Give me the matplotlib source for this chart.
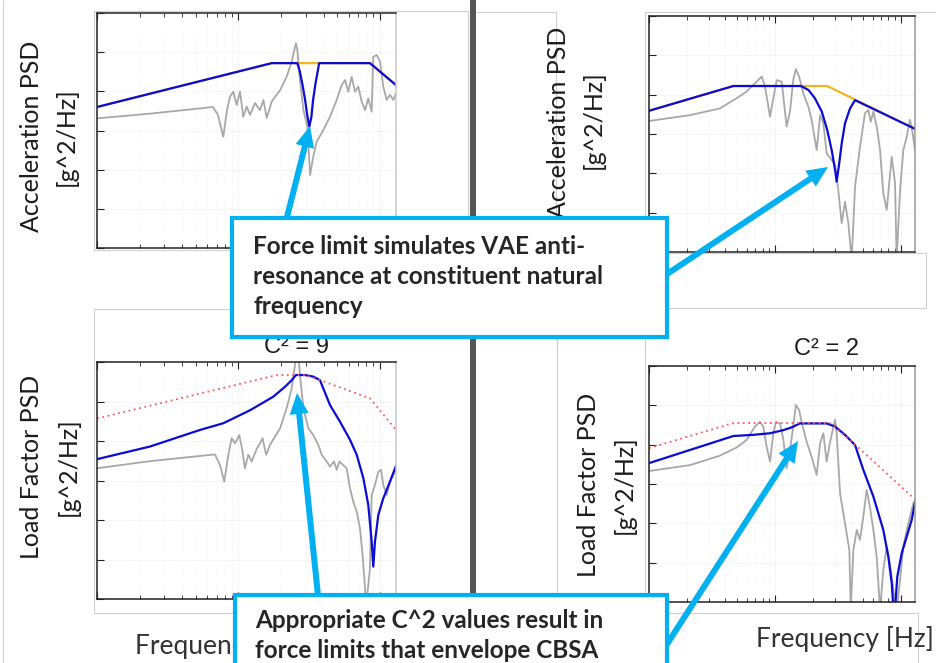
import numpy as np
import matplotlib
matplotlib.use("Agg")
import matplotlib.pyplot as plt
from matplotlib.patches import Rectangle, FancyArrow
from matplotlib.ticker import LogLocator, NullLocator

# ---------------- data (frequency in Hz, PSD level in dB re 1 g^2/Hz) ----------------
# Top-left: acceleration, constituent A
tl_spec_f = [10, 172, 851, 1300]
tl_spec_db = [-24.0, -12.8, -12.8, -18.4]
tl_limit_f = [10, 172, 261, 272, 284, 296, 306, 317, 328, 337, 351, 363, 372, 851, 1300]
tl_limit_db = [-24.0, -12.8, -12.8, -15.0, -18.4, -22.2, -26.0, -29.0, -26.5, -22.2,
               -17.9, -15.0, -12.8, -12.8, -18.4]
tl_resp_f = [10, 23.7, 66.1, 71.6, 78.1, 83.0, 87.1, 92.0, 97.2, 102.6,
             108.2, 114.3, 120.7, 130.9, 142, 150, 158.5, 172, 197, 219,
             238, 255, 261, 272, 288, 307, 321, 338, 357, 398,
             444, 495, 537, 567, 598, 632, 667, 704, 743, 785,
             828, 875, 898, 949, 1002, 1057, 1117, 1178, 1245, 1300]
tl_resp_db = [-26.9, -25.7, -24.0, -26.0, -31.6, -24.8, -21.4, -20.1, -23.5, -20.1,
              -26.5, -23.9, -26.0, -23.0, -24.8, -22.2, -26.8, -22.6, -19.7, -16.3,
              -12.4, -7.7, -9.4, -17.1, -24.8, -29.0, -41.4, -36.7, -32.9, -29.9,
              -26.5, -22.2, -18.4, -17.1, -20.1, -16.3, -20.1, -18.8, -22.6, -24.8,
              -21.8, -25.2, -11.2, -10.7, -12.4, -18.8, -22.2, -20.9, -22.2, -20.5]

# Top-right: acceleration, constituent B
tr_spec_f = [10, 46.8, 261, 1300]
tr_spec_db = [-24.1, -17.8, -17.8, -28.7]
tr_limit_f = [10, 46.8, 161, 185, 208, 236, 261, 283, 301, 310, 325, 340, 361, 396, 434, 1300]
tr_limit_db = [-24.1, -17.8, -17.8, -18.8, -20.9, -24.3, -29.0, -34.1, -39.1, -42.1,
               -37.4, -32.4, -27.3, -23.5, -21.4, -28.7]
tr_resp_f = [10, 21.2, 36.6, 49.8, 59.7, 67.4, 78.7, 83.6, 91.6, 97.3,
             103.5, 113.5, 124, 132, 140, 147, 156, 168, 185, 196,
             215, 229, 243, 258, 283, 301, 319, 340, 361, 384,
             408, 434, 475, 521, 553, 578, 607, 645, 686, 728,
             775, 849, 902, 930, 989, 1050, 1117, 1186, 1245, 1300]
tr_resp_db = [-26.7, -25.2, -23.5, -20.9, -19.2, -17.5, -15.4, -18.0, -25.6, -20.9,
              -16.3, -16.7, -28.1, -24.3, -16.3, -13.5, -15.4, -19.6, -23.1, -26.4,
              -34.1, -25.2, -27.3, -34.9, -36.6, -37.9, -44.2, -52.7, -47.2, -52.7,
              -62.0, -43.4, -33.2, -24.7, -23.9, -26.9, -24.3, -28.1, -34.1, -45.1,
              -49.3, -35.8, -42.5, -62.0, -44.2, -34.1, -30.7, -26.4, -29.8, -34.1]

# Bottom-left: load factor, C^2 = 9
bl_spec_f = [10, 187, 296, 377, 851, 1300]
bl_spec_db = [-14.3, -3.3, -3.3, -4.6, -9.2, -17.2]
bl_limit_f = [10, 23.7, 53.5, 78.2, 121, 176, 213, 238, 255, 296,
              338, 377, 398, 444, 522, 615, 686, 764, 828, 875,
              898, 923, 975, 1057, 1178, 1300]
bl_limit_db = [-24.6, -21.4, -17.2, -15.5, -12.2, -8.8, -6.3, -4.6, -3.3, -3.3,
               -3.7, -4.6, -6.7, -10.9, -15.1, -19.7, -23.5, -29.4, -36.2, -45.5,
               -51.8, -45.5, -38.7, -34.5, -30.3, -26.3]
bl_resp_f = [10, 23.7, 68.2, 74.1, 79.4, 84.8, 89.6, 94.6, 101.4, 107,
             111, 117.5, 124, 135, 142, 148, 157, 167, 197, 219,
             238, 251, 258, 265, 272, 288, 312, 338, 367, 388,
             421, 444, 474, 495, 517, 551, 582, 615, 649, 686,
             723, 755, 785, 798, 828, 851, 875, 923, 975, 1019,
             1057, 1117, 1178, 1245, 1300]
bl_resp_db = [-26.9, -25.1, -23.4, -26.1, -30.3, -23.5, -19.3, -20.6, -18.5, -22.7,
              -26.9, -23.5, -25.2, -21.9, -20.6, -19.3, -23.5, -21.0, -16.8, -11.7,
              -6.7, -0.8, 2.5, 2.5, -3.3, -11.7, -16.8, -18.5, -21.0, -23.5,
              -25.2, -26.5, -25.2, -27.3, -25.2, -26.1, -26.9, -32.0, -35.4, -37.9,
              -42.1, -48.9, -57.3, -62.0, -56.5, -52.2, -33.7, -31.1, -27.8, -27.3,
              -31.1, -33.7, -30.3, -28.6, -27.3]

# Bottom-right: load factor, C^2 = 2
br_spec_f = [10, 46.8, 274, 421, 1300]
br_spec_db = [-20.9, -14.5, -14.5, -19.6, -33.9]
br_limit_f = [10, 46.8, 67.4, 91.6, 117, 136, 158, 258, 301, 361,
              434, 505, 607, 728, 798, 849, 877, 902, 940, 1019,
              1117, 1224, 1300]
br_limit_db = [-24.7, -17.8, -17.5, -17.1, -16.3, -15.6, -14.6, -14.6, -15.4, -17.5,
               -20.1, -26.4, -33.2, -41.7, -48.5, -55.2, -62.0, -62.0, -53.6, -47.6,
               -43.4, -39.1, -34.7]
br_resp_f = [10, 21.2, 36.6, 49.8, 59.7, 69.5, 76.2, 80.9, 86.1, 91.6,
             97.3, 102, 110, 117, 124, 132, 140, 147, 156, 164,
             179, 196, 215, 229, 243, 258, 274, 292, 301, 310,
             330, 350, 372, 391, 401, 421, 448, 475, 505, 537,
             570, 607, 645, 686, 728, 775, 822, 875, 930, 989,
             1050, 1117, 1186, 1262, 1300]
br_resp_db = [-26.7, -25.2, -22.8, -20.7, -18.8, -15.4, -14.2, -15.4, -20.5, -24.3,
              -17.1, -14.2, -14.6, -18.8, -26.0, -21.4, -15.4, -9.9, -11.2, -14.6,
              -19.2, -23.1, -27.7, -19.6, -17.1, -24.3, -19.6, -15.4, -13.7, -17.1,
              -32.4, -37.4, -42.5, -46.8, -62.0, -46.8, -41.7, -44.2, -38.3, -31.5,
              -35.8, -41.7, -48.5, -62.0, -51.9, -45.9, -50.2, -56.9, -62.0, -54.4,
              -45.9, -41.7, -38.3, -34.9, -34.1]

acc_label = ["Acceleration PSD", "[g^2/Hz]"]
load_label = ["Load Factor PSD", "[g^2/Hz]"]
freq_label = "Frequency [Hz]"
titles = ["C\u00b2 = 9", "C\u00b2 = 2"]
note_top = ["Force limit simulates VAE anti-",
            "resonance at constituent natural",
            "frequency"]
note_bottom = ["Appropriate C^2 values result in",
               "force limits that envelope CBSA"]

# ---------------- styling ----------------
BLUE = "#0b0bd6"
GRAY = "#a8a8a8"
ORANGE = "#f2b423"
RED = "#ff5a5a"
CYAN = "#00b0f0"
FRAME = "#cfcfcf"
TEXT = "#1c1c1c"

W, H = 936, 663
fig = plt.figure(figsize=(W / 100, H / 100), dpi=100)
fig.patch.set_facecolor("white")


def px_axes(x0, y0, x1, y1):
    return fig.add_axes([x0 / W, 1 - y1 / H, (x1 - x0) / W, (y1 - y0) / H], zorder=5)


def psd(db):
    return 10 ** (np.asarray(db, dtype=float) / 10.0)


def style(ax, right_color):
    ax.set_xscale("log")
    ax.set_yscale("log")
    ax.set_xlim(10, 1300)
    ax.set_ylim(1e-6, 1.0)
    ax.xaxis.set_major_locator(LogLocator(base=10, numticks=10))
    ax.xaxis.set_minor_locator(LogLocator(base=10, subs=np.arange(2, 10), numticks=20))
    ax.yaxis.set_major_locator(LogLocator(base=10, numticks=10))
    ax.yaxis.set_minor_locator(NullLocator())
    ax.tick_params(which="both", direction="in", top=True, right=False,
                   labelbottom=False, labelleft=False, color="#222222")
    ax.tick_params(which="major", length=5, width=0.8)
    ax.tick_params(which="minor", length=3, width=0.6)
    for s in ax.spines.values():
        s.set_linewidth(1.1)
        s.set_color("#222222")
    ax.spines["right"].set_color(right_color)
    ax.grid(True, which="major", ls=":", color="#e0e0e0", lw=0.6)
    ax.grid(True, which="minor", axis="x", ls=":", color="#efefef", lw=0.5)


# Acceleration panels
ax_tl = px_axes(97, 13, 396, 248)
style(ax_tl, "#c8c8c8")
ax_tl.plot(tl_resp_f, psd(tl_resp_db), color=GRAY, lw=1.3)
ax_tl.plot(tl_spec_f, psd(tl_spec_db), color=ORANGE, lw=1.6)
ax_tl.plot(tl_limit_f, psd(tl_limit_db), color=BLUE, lw=1.6)

ax_tr = px_axes(649, 16, 915, 252)
style(ax_tr, "#9a9a9a")
ax_tr.plot(tr_resp_f, psd(tr_resp_db), color=GRAY, lw=1.3)
ax_tr.plot(tr_spec_f, psd(tr_spec_db), color=ORANGE, lw=1.6)
ax_tr.plot(tr_limit_f, psd(tr_limit_db), color=BLUE, lw=1.6)

# Load factor panels
ax_bl = px_axes(97, 362, 396, 599)
style(ax_bl, "#c8c8c8")
ax_bl.plot(bl_resp_f, psd(bl_resp_db), color=GRAY, lw=1.3)
ax_bl.plot(bl_limit_f, psd(bl_limit_db), color=BLUE, lw=1.6)
ax_bl.plot(bl_spec_f, psd(bl_spec_db), color=RED, lw=1.3, ls=(0, (1, 2)))

ax_br = px_axes(649, 366, 915, 602)
style(ax_br, "#9a9a9a")
ax_br.plot(br_resp_f, psd(br_resp_db), color=GRAY, lw=1.3)
ax_br.plot(br_limit_f, psd(br_limit_db), color=BLUE, lw=1.6)
ax_br.plot(br_spec_f, psd(br_spec_db), color=RED, lw=1.3, ls=(0, (1, 2)))

# ---------------- slide overlay (pixel coordinates) ----------------
fg = fig.add_axes([0, 0, 1, 1], zorder=10)
fg.set_xlim(0, W)
fg.set_ylim(H, 0)
fg.axis("off")
fg.patch.set_alpha(0)


def frame_line(xs, ys):
    fg.plot(xs, ys, color=FRAME, lw=0.8, zorder=1, solid_capstyle="butt")


frame_line([3, 3], [0, H])
frame_line([94, 94, 468, 468, 94], [11, 250, 250, 11, 11])
frame_line([94, 94, 468], [309, 613, 613])
frame_line([94, 468], [309, 309])
frame_line([476, 556, 556], [12, 12, 340])
frame_line([645, 645], [12, 255])
frame_line([645, 936], [12, 12])
frame_line([668, 926, 926, 668, 668], [253, 253, 308, 308, 253])
frame_line([557, 557], [300, H])
frame_line([645, 645], [300, 610])
frame_line([668, 918, 918], [613, 613, H])

# divider between the two constituents
fg.add_patch(Rectangle((470, 0), 6, H, facecolor="#555555", edgecolor="none", zorder=2))

lab_kw = dict(rotation=90, ha="center", va="center", fontsize=18, family="Lato",
              color=TEXT, zorder=3)
fg.text(32, 136, acc_label[0], **lab_kw)
fg.text(66, 137, acc_label[1], **lab_kw)
fg.text(558, 122, acc_label[0], **lab_kw)
fg.text(593, 120, acc_label[1], **lab_kw)
fg.text(32, 467, load_label[0], **lab_kw)
fg.text(68, 467, load_label[1], **lab_kw)
fg.text(588, 485, load_label[0], **lab_kw)
fg.text(624, 485, load_label[1], **lab_kw)

title_kw = dict(ha="center", va="center", fontsize=17, family="Liberation Sans",
                color=TEXT, zorder=3)
fg.text(297, 347, titles[0], **title_kw)
fg.text(826, 349, titles[1], **title_kw)

fl_kw = dict(ha="left", va="center", fontsize=19, family="Lato", color="#333333", zorder=3)
fg.text(135, 646, freq_label, **fl_kw)
fg.text(756, 639, freq_label, **fl_kw)

# callout arrows
arr_kw = dict(width=6, head_width=19, head_length=21, length_includes_head=True,
              color=CYAN, zorder=9, lw=0)
for (x0, y0, x1, y1) in [(285, 225, 310, 126), (655, 282, 828, 167),
                         (319, 605, 297, 393), (660, 655, 798, 441)]:
    fg.add_patch(FancyArrow(x0, y0, x1 - x0, y1 - y0, **arr_kw))

# callout boxes
fg.add_patch(Rectangle((232, 218), 435, 119, facecolor="white", edgecolor=CYAN,
                       lw=3, zorder=10))
fg.add_patch(Rectangle((235, 595), 432, 90, facecolor="white", edgecolor=CYAN,
                       lw=3, zorder=10))

note_kw = dict(ha="left", va="center", fontsize=17.5, family="Lato", weight="bold",
               color="#262626", zorder=11)
for i, line in enumerate(note_top):
    fg.text(253, 246 + 30 * i, line, **note_kw)
for i, line in enumerate(note_bottom):
    fg.text(255, 621 + 30 * i, line, **note_kw)

fig.savefig("out.png", dpi=100, facecolor="white")
